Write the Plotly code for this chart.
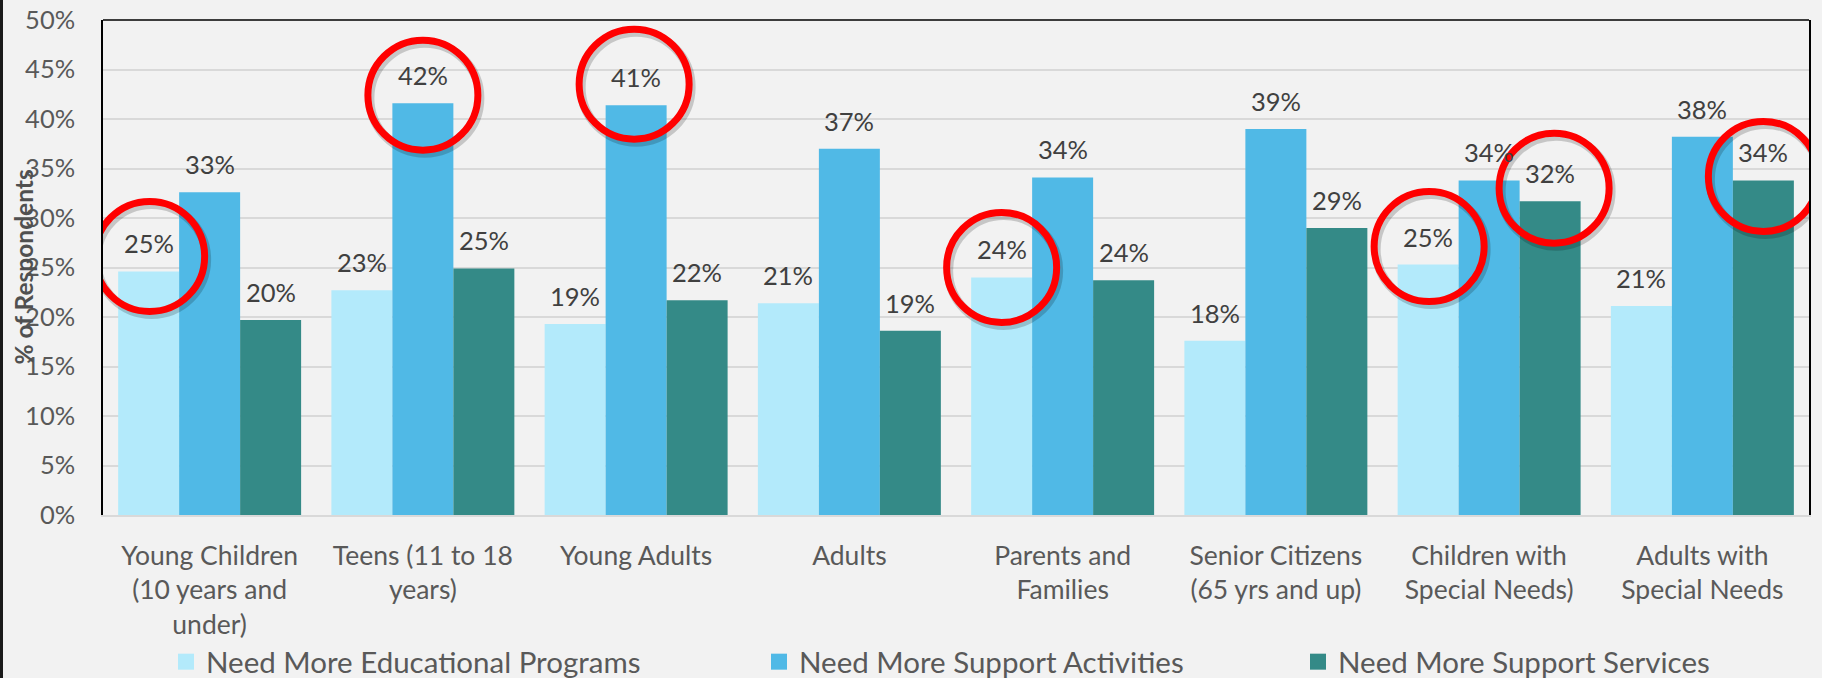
import plotly.graph_objects as go

# ---- data -------------------------------------------------------------
categories = [
    "Young Children<br>(10 years and<br>under)",
    "Teens (11 to 18<br>years)",
    "Young Adults",
    "Adults",
    "Parents and<br>Families",
    "Senior Citizens<br>(65 yrs and up)",
    "Children with<br>Special Needs)",
    "Adults with<br>Special Needs",
]
educational = [24.6, 22.7, 19.3, 21.4, 24.0, 17.6, 25.3, 21.1]
activities = [32.6, 41.6, 41.4, 37.0, 34.1, 39.0, 33.8, 38.2]
services = [19.7, 24.9, 21.7, 18.6, 23.7, 29.0, 31.7, 33.8]

series_names = [
    "Need More Educational Programs",
    "Need More Support Activities",
    "Need More Support Services",
]
series_values = [educational, activities, services]
y_ticks = list(range(0, 51, 5))
y_tick_labels = [f"{t}%" for t in y_ticks]

# labels circled in red: (category index, series index, x shift px, y shift px)
highlights = [(0, 0, 1, 15), (1, 1, 0, 8), (2, 1, -2, 21), (4, 0, 0, 10),
              (6, 0, 1, 18), (6, 2, 4, 13), (7, 2, 0, 4)]

# ---- style ------------------------------------------------------------
colors = ["#B3EAFB", "#50B9E6", "#348A87"]
FONT = "Lato"
TICK_COLOR = "#595959"
LABEL_COLOR = "#404040"
BG = "#F2F2F2"
BARGAP = 0.142
n_series = len(series_values)
bar_w = (1 - BARGAP) / n_series
x_idx = list(range(len(categories)))

fig = go.Figure()

for name, vals, col in zip(series_names, series_values, colors):
    fig.add_trace(go.Bar(
        x=x_idx, y=vals, name=name, marker=dict(color=col, line=dict(width=0)),
        showlegend=False, hoverinfo="skip",
    ))

# legend entries with larger square swatches, one legend per series
legend_ids = ["legend", "legend2", "legend3"]
for name, col, lid in zip(series_names, colors, legend_ids):
    fig.add_trace(go.Scatter(
        x=[None], y=[None], mode="markers", name=name, legend=lid,
        marker=dict(symbol="square", size=17, color=col),
    ))

# value labels above each bar
annotations = []
for s, vals in enumerate(series_values):
    off = (s - (n_series - 1) / 2) * bar_w
    for i, v in enumerate(vals):
        annotations.append(dict(
            x=i + off, y=v, xref="x", yref="y", text=f"{v:.0f}%",
            showarrow=False, yanchor="middle", yshift=28,
            font=dict(family=FONT, size=25.5, color=LABEL_COLOR),
        ))

# y axis title
annotations.append(dict(
    x=(23 - 103) / 1706, y=0.5, xref="paper", yref="paper",
    text="<b>% of Respondents</b>", textangle=-90, showarrow=False,
    xanchor="center", yanchor="middle",
    font=dict(family=FONT, size=24.5, color="#505050"),
))

shapes = []
# frame line along the top of the plot area
shapes.append(dict(type="line", xref="paper", yref="paper", x0=0, x1=1, y0=1, y1=1,
                   line=dict(color="black", width=1.5), layer="above"))
# dark edge at the far left of the canvas
shapes.append(dict(type="rect", xref="paper", yref="paper",
                   x0=-103 / 1706, x1=-100 / 1706, y0=-0.34, y1=1.05,
                   fillcolor="#1a1a1a", line=dict(width=0), layer="above"))

R = 55
for ci, si, dx, dy in highlights:
    xa = ci + (si - (n_series - 1) / 2) * bar_w
    ya = series_values[si][ci]
    # soft shadow
    shapes.append(dict(type="circle", xref="x", yref="y", xsizemode="pixel", ysizemode="pixel",
                       xanchor=xa, yanchor=ya, x0=dx - R + 2, x1=dx + R + 2,
                       y0=dy - R - 3, y1=dy + R - 3,
                       line=dict(color="rgba(0,0,0,0.18)", width=9), layer="above"))
    shapes.append(dict(type="circle", xref="x", yref="y", xsizemode="pixel", ysizemode="pixel",
                       xanchor=xa, yanchor=ya, x0=dx - R, x1=dx + R, y0=dy - R, y1=dy + R,
                       line=dict(color="#FF0000", width=7), layer="above"))

legend_x = [(166 - 103) / 1706, (759 - 103) / 1706, (1298 - 103) / 1706]
legend_common = dict(orientation="h", yanchor="middle", y=(515 - 662) / 495, xanchor="left",
                     bgcolor="rgba(0,0,0,0)", font=dict(family=FONT, size=29.5, color=TICK_COLOR),
                     itemwidth=30)

fig.update_layout(
    width=1822, height=678,
    template="none",
    paper_bgcolor=BG, plot_bgcolor=BG,
    margin=dict(l=103, r=13, t=20, b=163, autoexpand=False),
    barmode="group", bargap=BARGAP, bargroupgap=0,
    font=dict(family=FONT, size=25, color=TICK_COLOR),
    xaxis=dict(
        range=[-0.5, len(categories) - 0.5], tickmode="array", tickvals=x_idx, ticktext=categories,
        showgrid=False, zeroline=False, showline=True, linecolor="#D9D9D9", linewidth=2,
        ticks="", ticklabelstandoff=16, automargin=False, fixedrange=True,
        tickfont=dict(family=FONT, size=26.5, color=TICK_COLOR),
    ),
    yaxis=dict(
        range=[0, 50], tickmode="array", tickvals=y_ticks, ticktext=y_tick_labels,
        showgrid=True, gridcolor="#D9D9D9", gridwidth=2, zeroline=False,
        showline=True, linecolor="black", linewidth=1.5, mirror=True,
        ticks="", ticklabelstandoff=21, automargin=False, fixedrange=True,
        tickfont=dict(family=FONT, size=25.5, color=TICK_COLOR),
    ),
    legend=dict(x=legend_x[0], **legend_common),
    legend2=dict(x=legend_x[1], **legend_common),
    legend3=dict(x=legend_x[2], **legend_common),
    annotations=annotations,
    shapes=shapes,
)

fig.write_html("out.html")
